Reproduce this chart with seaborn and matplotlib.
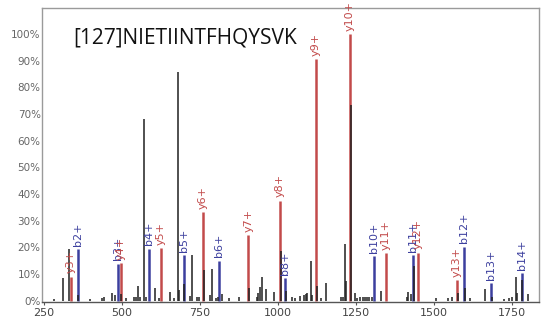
import matplotlib
matplotlib.use("Agg")
import matplotlib.pyplot as plt
import seaborn as sns
import pandas as pd

# Annotated fragment ions
ion_labels = ["y3+", "b2+", "b3+", "y4+", "b4+", "y5+", "b5+", "y6+", "b6+", "y7+",
              "y8+", "b8+", "y9+", "y10+", "b10+", "y11+", "b11+", "y12+", "y13+",
              "b12+", "b13+", "b14+"]
ion_mz = [337, 359.6, 487.8, 497.4, 588, 626.6, 699, 761, 813.5, 906.4,
          1008, 1024, 1122.4, 1232, 1310, 1347.8, 1435, 1449, 1575,
          1597.8, 1684, 1782.7]
ion_intensity = [9.0, 19.2, 13.9, 14.0, 19.5, 19.8, 17.0, 33.3, 15.0, 24.6,
                 37.5, 8.4, 90.5, 100.0, 16.7, 17.8, 17.0, 18.0, 7.8,
                 20.3, 6.5, 10.3]

# Unassigned peaks
other_mz = [283.7, 311.5, 330.8, 361.6, 399, 436.5, 444, 468.6, 479, 498.4,
            514, 541, 546.5, 554, 559, 571, 578.5, 608, 621, 655.4,
            668, 682, 684, 700, 719.5, 726, 743, 747, 764.5, 783.6,
            791, 803, 810, 823, 844.5, 875.6, 909.6, 933, 938.5, 944,
            951, 963, 990, 1010, 1027, 1045.5, 1056, 1072, 1086, 1090,
            1093, 1106.5, 1111.5, 1126, 1138.5, 1154.5, 1203.5, 1209, 1216, 1220,
            1235, 1248.5, 1256, 1264, 1273, 1280, 1287, 1294, 1302, 1331,
            1416, 1419, 1428, 1438, 1508, 1547.5, 1558, 1577.6, 1601, 1617,
            1665, 1686.5, 1727, 1743, 1750.6, 1764.5, 1768.6, 1784.6, 1804]
other_intensity = [0.5, 8.5, 19.5, 2.0, 0.5, 1.0, 1.5, 2.8, 2.0, 2.5,
                   1.0, 1.5, 1.5, 5.6, 1.5, 68.0, 1.5, 4.6, 1.0, 3.4,
                   1.0, 85.7, 4.0, 6.3, 1.9, 17.0, 1.3, 1.5, 11.5, 2.3,
                   11.7, 1.0, 1.5, 2.5, 1.0, 1.5, 4.8, 1.5, 3.0, 5.0,
                   8.7, 4.4, 3.4, 18.5, 3.5, 1.3, 1.0, 1.6, 2.1, 2.5,
                   3.0, 15.0, 2.0, 5.6, 1.0, 6.7, 1.2, 1.5, 21.3, 7.3,
                   73.4, 2.7, 1.0, 1.5, 1.3, 1.3, 1.3, 1.3, 1.3, 3.7,
                   1.5, 3.2, 2.5, 13.0, 1.0, 1.0, 1.5, 3.0, 4.8, 1.0,
                   4.4, 1.5, 0.7, 1.0, 1.5, 8.7, 3.0, 7.9, 2.5]

x_ticks = [250, 500, 750, 1000, 1250, 1500, 1750]
y_ticks = [0, 10, 20, 30, 40, 50, 60, 70, 80, 90, 100]
peptide = "[127]NIETIINTFHQYSVK"

ions = pd.DataFrame({"label": ion_labels, "mz": ion_mz, "intensity": ion_intensity})
ions["series"] = ions["label"].str[0]
others = pd.DataFrame({"mz": other_mz, "intensity": other_intensity})

sns.set_theme(style="white")
plt.rcParams["font.family"] = ["DejaVu Sans"]

palette = {"b": "#3c3f9e", "y": "#c24a4a"}

fig = plt.figure(figsize=(5.46, 3.24), dpi=100)
ax = fig.add_axes([42 / 546, 1 - 301.5 / 324, 497 / 546, 293.5 / 324])

# stick spectrum: coloured ions first, unassigned peaks over them
for series, grp in ions.groupby("series"):
    ax.vlines(grp["mz"], 0, grp["intensity"], colors=palette[series], linewidth=1.8, zorder=2)
ax.vlines(others["mz"], 0, others["intensity"], colors="#222222", linewidth=1.4,
          alpha=0.8, zorder=3)

for _, row in ions.iterrows():
    ax.text(row["mz"], row["intensity"] + 1.2, row["label"], rotation=90,
            ha="center", va="bottom", fontsize=8, color=palette[row["series"]],
            clip_on=False, zorder=4)

ax.text(73 / 546, 1 - 38 / 324, peptide, transform=fig.transFigure,
        fontsize=15, color="#111111", ha="left", va="center",
        family=["Open Sans", "DejaVu Sans"])

ax.set_xlim(245, 1838)
ax.set_ylim(-0.3, 109.7)
ax.set_xticks(x_ticks)
ax.set_yticks(y_ticks)
ax.set_yticklabels([f"{v}%" for v in y_ticks])
ax.tick_params(axis="x", length=2.5, width=0.8, color="#555555", pad=2,
               labelsize=8, labelcolor="#444444", bottom=True)
ax.tick_params(axis="y", length=0, pad=1, labelsize=7.5, labelcolor="#666666")
for side, spine in ax.spines.items():
    spine.set_color("#9a9a9a")
    spine.set_linewidth(1.0)
ax.spines["bottom"].set_color("#555555")
ax.grid(False)

fig.savefig("out.png", dpi=100)
